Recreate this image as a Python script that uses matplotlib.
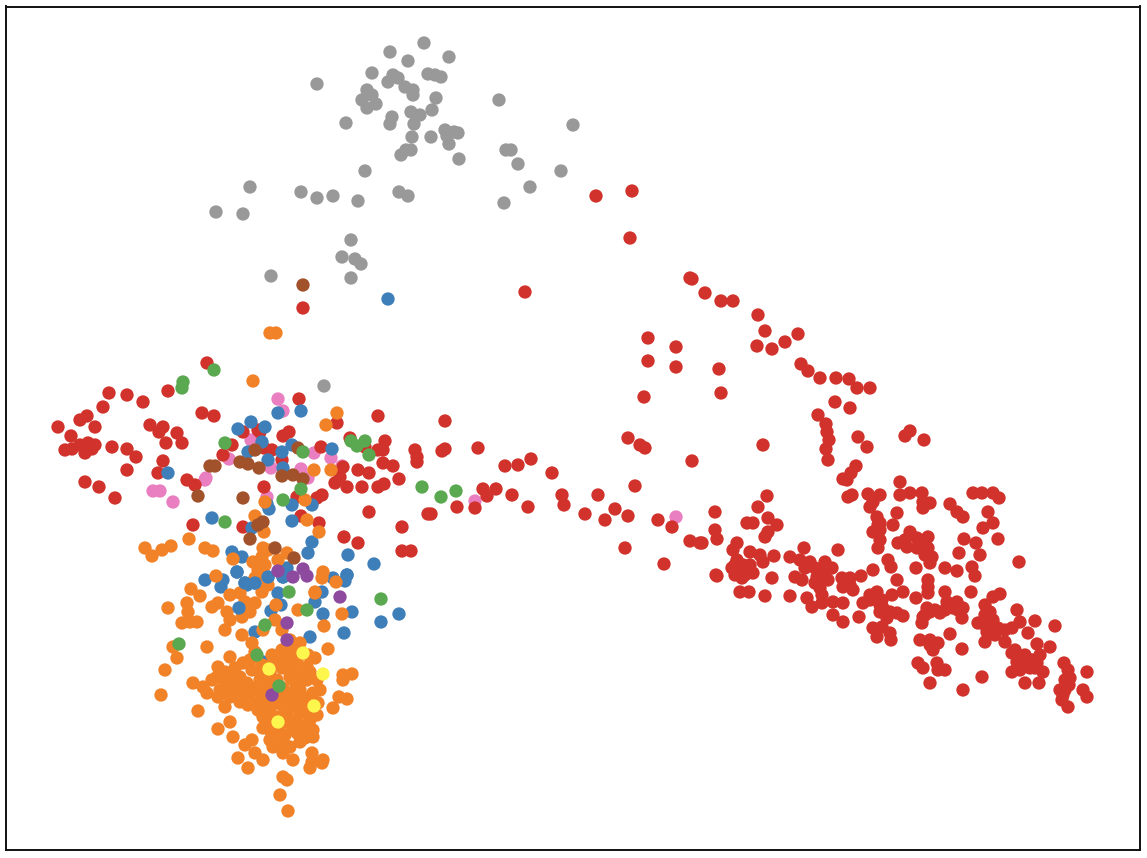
import matplotlib
matplotlib.use('Agg')
import matplotlib.pyplot as plt

grey = [(424,43),(390,52),(449,57),(408,61),(372,73),(317,84),(393,75),(398,78),(388,82),(405,87),(428,74),(435,75),(441,77),
        (413,90),(413,95),(367,90),(372,95),(362,100),(376,104),(367,108),(436,98),(499,100),(411,112),(420,115),(432,110),
        (392,117),(390,124),(346,123),(414,124),(573,125),(445,130),(454,132),(431,137),(447,136),(458,133),(412,137),(449,144),
        (459,159),(406,150),(401,155),(411,150),(506,150),(511,150),(518,164),(365,171),(561,171),(399,192),(530,187),(301,192),
        (317,198),(333,196),(358,201),(408,196),(250,187),(216,212),(243,214),(504,203),(351,240),(342,257),(355,259),(361,264),
        (351,278),(271,276),(324,386)]

red = [(596,196),(632,191),(630,238),(525,292),(303,308),(690,278),(692,279),(705,293),(721,301),(733,301),(758,315),(765,331),
       (798,334),(785,342),(772,349),(757,346),(648,338),(648,361),(676,347),(676,367),(719,369),(721,393),(644,397),(801,364),
       (808,371),(820,378),(836,378),(849,379),(857,388),(870,388),(835,402),(850,408),(818,415),(826,424),(827,432),(858,437),
       (829,440),(826,449),(828,460),(910,431),(905,436),(924,440),(628,438),(640,445),(645,448),(692,461),(763,445),(867,447),
       (856,466),(851,473),(843,479),(868,494),
       (767,496),(758,507),(715,512),(747,523),(753,523),(768,518),(777,525),(768,532),(765,537),(715,530),(717,539),(702,543),
       (737,543),(733,550),(750,552),(760,555),(774,556),(763,562),(737,560),(743,565),(732,568),(740,570),(747,572),(753,573),
       (742,578),(717,576),(772,578),(740,592),(749,592),(765,596),(804,548),(790,557),(800,560),(810,562),(815,568),(825,562),
       (832,568),(823,575),(838,550),(795,577),(802,580),(817,577),(815,583),(820,588),(822,595),(790,596),(807,598),(812,607),
       (822,603),(833,602),(843,603),(833,615),(843,622),(859,617),(842,578),(850,578),(843,587),(853,590),(861,576),(873,570),
       (897,580),(877,592),(870,595),(863,603),(882,600),(892,595),(903,592),(883,608),(897,613),(903,616),(887,618),(873,628),
       (882,627),(877,637),(890,633),(891,640),(916,568),(916,598),(928,580),(928,593),(928,587),(945,568),(957,571),(972,567),
       (975,576),(945,592),(947,602),(957,602),(963,608),(953,608),(962,618),(940,613),(930,612),(927,608),(922,623),(923,617),
       (971,592),(950,634),(920,640),(930,640),(938,643),(933,650),(962,649),(918,663),(923,668),(937,663),(938,670),(945,670),
       (930,683),(963,690),(982,677),(985,605),(993,597),(1000,594),(990,612),(978,623),(987,623),(993,620),(998,628),(987,632),
       (985,642),(1005,642),(1012,628),(1020,622),(1035,621),(1028,633),(1017,610),(1055,626),(1037,644),(1050,647),(1012,653),
       (1017,662),(1025,663),(1033,660),(1040,655),(1030,668),(1037,663),(1012,672),(1043,672),(1025,683),(1039,683),(1064,663),
       (1068,670),(1070,678),(1069,685),(1060,690),(1062,700),(1068,707),(1087,672),(1083,690),(1087,697),(848,497),(852,495),
       (900,482),(847,480),(880,495),(873,502),(870,507),(900,495),(910,493),(922,493),(923,502),(930,503),(923,508),(973,493),
       (982,493),(993,493),(999,498),(950,504),(957,512),(963,517),(988,512),(993,523),(983,528),(897,513),(877,517),(880,523),
       (893,525),(873,532),(880,540),(878,548),(910,532),(898,543),(907,547),(917,538),(928,537),(917,548),(928,548),(932,557),
       (930,563),(888,560),(891,567),(964,539),(976,543),(959,553),(980,555),(998,539),(1019,562),
       (445,421),(478,448),(445,449),(442,451),(518,465),(505,466),(531,459),(552,473),(496,489),(483,489),(487,496),(512,495),
       (528,507),(562,495),(564,505),(598,495),(635,486),(585,514),(605,520),(615,509),(628,516),(658,520),(672,527),(690,541),
       (700,543),(625,548),(664,564),(716,575),(457,507),(431,514),(475,508),
       (58,427),(71,436),(80,420),(87,416),(103,407),(109,393),(127,395),(207,363),(95,427),(72,449),(65,450),(80,445),(88,443),
       (85,453),(92,449),(95,445),(112,447),(127,449),(136,457),(127,470),(85,482),(99,487),(115,498),
       (168,391),(143,402),(202,413),(214,416),(150,425),(163,427),(159,432),(177,433),(166,443),(182,443),(163,461),(158,473),
       (187,480),(195,485),(193,525),(299,399),(378,416),(337,423),(243,432),(258,430),(260,432),(283,436),(289,432),(232,445),
       (223,455),(264,448),(272,450),(321,447),(350,438),(365,447),(385,441),(383,450),(378,450),(415,450),(417,457),(417,462),
       (383,463),(393,466),(358,470),(369,473),(399,479),(343,467),(340,477),(335,483),(347,487),(362,487),(378,487),(384,484),
       (282,460),(264,487),(297,497),(317,498),(322,495),(369,512),(428,514),(402,527),(402,551),(411,551),(344,537),(358,543),
       (243,527),(301,516),(319,523),
       (735,565),(745,575),(735,575),(750,565),(805,568),(820,570),(828,580),(845,583),(850,585),(875,598),(885,612),(880,605),
       (890,612),(935,610),(945,610),(950,605),(958,610),(925,615),(930,645),(1020,660),(1025,655),(1020,670),(1030,660),
       (1035,668),(985,615),(985,625),(1005,630),(995,635),(880,530),(878,525),(905,540),(925,545),(925,555),(870,600),(880,612),
       (1065,680),(1065,690),(1063,695),(1015,650)]

blue = [(388,299),(168,473),(278,413),(301,411),(251,422),(238,429),(265,427),(262,442),(248,452),(282,452),(292,445),(332,449),
        (268,460),(283,468),(267,504),(269,509),(292,505),(312,505),(292,521),(212,518),(252,528),(312,542),(308,553),(348,555),
        (374,564),(232,552),(242,557),(237,572),(205,580),(223,580),(221,587),(245,583),(255,583),(268,577),(283,577),(287,568),
        (333,578),(347,575),(345,581),(278,593),(322,592),(247,585),(281,605),(271,611),(315,602),(323,614),(352,612),
        (381,622),(344,633),(310,637),(255,632),(263,662),(399,614)]

blue_top = [(239,608),(268,577),(245,583),(237,572),(255,583),(283,577),(347,575)]

orange = [(253,381),(270,333),(276,333),(337,413),(326,425),(314,470),(331,470),(305,500),(265,502),(255,516),(264,532),(319,532),
          (307,520),(189,539),(145,548),(152,556),(162,550),(171,546),(205,548),(213,551),(263,548),(262,557),(253,562),(258,570),
          (263,575),(287,553),(278,560),(233,559),(216,576),(323,572),(322,578),(336,582),(262,592),(315,592),(191,589),(200,596),
          (168,608),(187,603),(188,612),(182,623),(190,622),(197,622),(212,607),(218,603),(230,595),(240,593),(245,602),(255,603),
          (227,612),(230,620),(242,617),(250,612),(225,630),(276,605),(298,610),(315,593),(342,614),(324,626),(263,630),(275,620),
          (282,630),(242,635),(252,643),(255,652),(173,647),(177,658),(207,647),(328,649),(165,670),(161,695),(343,675),(352,674),
          (343,680),(339,697),(347,699),(333,708),(198,711),(218,729),(193,683),(203,687),(207,693),
          (218,667),(230,657),(217,677),(243,663),(252,670),(225,683),(218,697),(225,707),(240,702),(253,703),(237,687),(247,683),
          (260,680),(267,690),(263,707),(277,703),(287,697),(300,690),(313,693),(320,690),(317,680),(307,667),(297,660),(287,647),
          (300,643),(283,660),(290,677),(277,680),(270,673),(263,717),(263,728),(277,737),(273,747),(283,753),(293,760),(290,747),
          (303,727),(313,730),(313,737),(300,713),(297,720),(312,753),(310,768),(322,763),(323,760),(312,762),(283,777),(287,780),
          (280,795),(288,811),(230,722),(233,737),(245,745),(252,740),(255,753),(263,760),(238,758),(248,768),(315,658),(317,715),
          (272,655),(240,677),(250,693),(277,717),(297,733),(287,713),(293,680),(297,707),(307,680),(280,693),(270,703),(233,677),
          (230,697),(243,693),(290,667),(307,713),
          (225,672),(235,668),(250,660),(262,665),(272,664),(282,668),(300,672),(310,672),(232,690),(255,688),(262,697),(270,682),
          (283,688),(293,692),(305,698),(318,703),(275,693),(282,705),(292,702),(305,705),(310,720),(270,712),(270,722),(270,730),
          (285,722),(293,728),(300,742),(305,738),(285,735),(270,740),(278,728),(285,745),(220,690),(212,680),(258,710),(245,690),
          (235,695),(248,705),(260,672),(298,682),(302,700),(282,650),(290,655),(300,653),(308,655),(295,645),(290,640),(258,565),
          (268,550),(265,565),(268,585),(255,578)]

green = [(179,644),(257,655),(279,686),(265,625),(289,592),(307,610),(381,599),(183,382),(182,388),(214,370),(225,443),(303,452),
         (351,441),(357,446),(365,441),(369,455),(422,487),(301,489),(283,500),(225,522),(441,497),(456,491)]

purple = [(278,571),(303,569),(307,576),(293,577),(340,597),(287,623),(287,640),(272,695)]

yellow = [(303,653),(269,669),(323,674),(314,706),(278,722)]

brown = [(303,285),(210,466),(215,466),(240,462),(248,464),(259,468),(255,450),(298,448),(282,476),(293,475),(303,479),(198,496),
         (243,498),(263,522),(258,525),(250,539),(275,548),(294,558)]

pink = [(278,399),(283,411),(251,440),(229,459),(206,478),(205,480),(153,491),(160,491),(173,502),(271,468),(314,453),(331,458),
        (342,466),(301,469),(308,478),(267,497),(475,501),(676,517)]

groups = [(grey, '#999999'), (pink, '#e97fc0'), (red, '#d1322b'), (blue, '#3f7fb9'), (orange, '#f28228'),
          (blue_top, '#3f7fb9'), (brown, '#a2522b'), (purple, '#8e4a9f'), (yellow, '#fdf64c'), (green, '#5aa84f')]

fig = plt.figure(figsize=(11.47, 8.58), dpi=100)
ax = fig.add_axes([6/1147, 8/858, 1134/1147, 843.5/858])

for pts, col in groups:
    ax.scatter([p[0] for p in pts], [p[1] for p in pts], s=92, color=col, edgecolors='none')

ax.set_xlim(6, 1140)
ax.set_ylim(850, 6.5)
ax.set_xticks([])
ax.set_yticks([])
for s in ax.spines.values():
    s.set_linewidth(1.4)
    s.set_color('#111111')

plt.savefig('out.png', dpi=100)
